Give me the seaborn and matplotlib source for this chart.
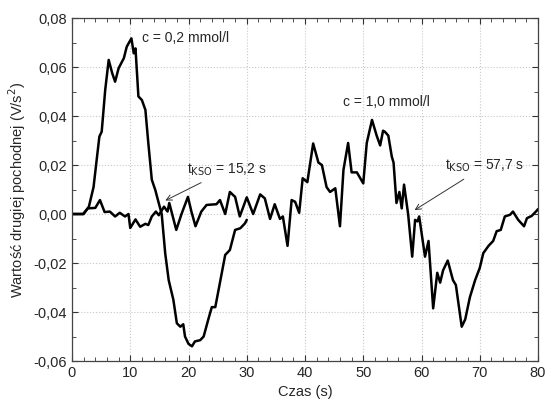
import pandas as pd
import matplotlib.pyplot as plt
import matplotlib.ticker as mticker
import seaborn as sns

# c = 0,2 mmol/l
czas_a = [0, 2.0, 2.9, 3.7, 4.3, 4.7, 5.1, 5.7, 6.3, 6.9, 7.4, 8.0, 8.9, 9.4, 10.2, 10.6,
          10.9, 11.4, 12.0, 12.6, 13.1, 13.7, 14.3, 14.9, 15.4, 16.0, 16.6, 17.4, 18.0,
          18.6, 19.1, 19.4, 20.0, 20.6, 21.1, 22.0, 22.6, 23.4, 24.0, 24.6, 25.4, 26.3,
          27.1, 28.0, 28.9, 29.7, 30.0]
wart_a = [0, 0, 0.003, 0.011, 0.0234, 0.0316, 0.0336, 0.0506, 0.0629, 0.0575, 0.054,
          0.0595, 0.0636, 0.0683, 0.0717, 0.0656, 0.0676, 0.048, 0.0465, 0.0425, 0.029,
          0.014, 0.0098, 0.0044, 0.0, -0.016, -0.027, -0.035, -0.0446, -0.046, -0.045,
          -0.050, -0.053, -0.054, -0.052, -0.0515, -0.050, -0.043, -0.038, -0.038, -0.028,
          -0.0167, -0.0147, -0.0065, -0.0058, -0.0038, -0.0024]

# c = 1,0 mmol/l
czas_b = [0, 1.9, 2.7, 4.0, 4.8, 5.6, 6.5, 7.4, 8.2, 9.1, 9.7, 10.0, 10.9, 11.7, 12.6,
          13.1, 13.7, 14.4, 14.9, 15.8, 16.4, 16.7, 17.9, 18.8, 19.9, 20.5, 21.2, 22.2,
          23.1, 24.8, 25.4, 26.3, 27.1, 28.0, 28.8, 30.0, 31.1, 32.3, 33.1, 34.0, 34.8,
          35.7, 36.2, 37.0, 37.7, 38.3, 39.0, 39.6, 40.4, 41.4, 42.3, 42.9, 43.7, 44.3,
          45.2, 46.0, 46.6, 47.4, 48.0, 48.9, 50.0, 50.6, 51.5, 52.3, 52.9, 53.4, 53.7,
          54.3, 54.9, 55.2, 55.7, 56.2, 56.6, 57.0, 57.7, 58.4, 58.9, 59.3, 59.6, 60.6,
          61.2, 62.0, 62.7, 63.2, 63.7, 64.5, 65.4, 65.9, 66.9, 67.5, 68.3, 69.2, 70.0,
          70.6, 71.5, 72.3, 72.9, 73.6, 74.3, 75.2, 75.7, 76.6, 77.6, 78.1, 78.9, 79.8, 80.0]
wart_b = [0, 0, 0.0023, 0.0025, 0.0057, 0.0008, 0.001, -0.001, 0.0005, -0.001, 0.0,
          -0.0057, -0.0022, -0.0052, -0.004, -0.0045, -0.001, 0.001, -0.0005, 0.003, 0.001,
          0.0045, -0.0065, 0.0, 0.007, 0.001, -0.005, 0.001, 0.0037, 0.004, 0.0057, 0.0,
          0.009, 0.007, -0.001, 0.0068, 0.0, 0.008, 0.0064, -0.002, 0.004, -0.002, -0.001,
          -0.013, 0.0057, 0.005, 0.0005, 0.0146, 0.013, 0.0288, 0.021, 0.02, 0.011, 0.009,
          0.0105, -0.005, 0.018, 0.029, 0.017, 0.017, 0.0125, 0.029, 0.0384, 0.032, 0.028,
          0.034, 0.0336, 0.032, 0.0234, 0.021, 0.0045, 0.009, 0.0023, 0.012, 0.0, -0.0174,
          -0.0024, -0.003, -0.001, -0.0174, -0.011, -0.0385, -0.024, -0.028, -0.023, -0.019,
          -0.027, -0.029, -0.046, -0.043, -0.034, -0.027, -0.022, -0.016, -0.013, -0.011,
          -0.007, -0.0065, -0.001, -0.0003, 0.001, -0.0024, -0.005, -0.0017, -0.0008,
          0.0014, 0.002]

df_a = pd.DataFrame({'czas': czas_a, 'wartosc': wart_a})
df_b = pd.DataFrame({'czas': czas_b, 'wartosc': wart_b})

sns.set_style('ticks')
plt.rcParams['font.family'] = ['Liberation Sans', 'DejaVu Sans']

fig = plt.figure(figsize=(5.45, 4.04), dpi=100)
ax = fig.add_axes([0.1321, 0.1064, 0.8551, 0.849])

sns.lineplot(data=df_a, x='czas', y='wartosc', color='black', linewidth=1.8,
             sort=False, estimator=None, ax=ax)
sns.lineplot(data=df_b, x='czas', y='wartosc', color='black', linewidth=1.8,
             sort=False, estimator=None, ax=ax)

ax.set_xlim(0, 80)
ax.set_ylim(-0.06, 0.08)
ax.xaxis.set_major_locator(mticker.MultipleLocator(10))
ax.xaxis.set_minor_locator(mticker.MultipleLocator(2))
ax.yaxis.set_major_locator(mticker.MultipleLocator(0.02))
ax.yaxis.set_minor_locator(mticker.MultipleLocator(0.01))
ax.yaxis.set_major_formatter(mticker.FuncFormatter(
    lambda v, p: f'{v:.2f}'.replace('.', ',').replace('-0,00', '0,00')))
ax.tick_params(which='both', direction='in', top=True, right=True, labelsize=10.5,
               color='#333333')
ax.tick_params(which='major', length=4)
ax.tick_params(which='minor', length=3)
ax.grid(True, which='major', linestyle=':', color='#c8c8c8', linewidth=0.8)
for s in ax.spines.values():
    s.set_color('#444444')
    s.set_linewidth(0.9)

ax.set_xlabel('Czas (s)', fontsize=10.5)
ax.set_ylabel('Wartość drugiej pochodnej (V/s$^2$)', fontsize=10.5)

ax.text(12.0, 0.0718, 'c = 0,2 mmol/l', fontsize=10, va='center')
ax.text(46.5, 0.0458, 'c = 1,0 mmol/l', fontsize=10, va='center')
ax.annotate('t$_{\\mathrm{KSO}}$ = 15,2 s', xy=(15.6, 0.005), xytext=(19.7, 0.018),
            fontsize=10, va='center',
            arrowprops=dict(arrowstyle='->', color='#333333', lw=0.7))
ax.annotate('t$_{\\mathrm{KSO}}$ = 57,7 s', xy=(58.4, 0.001), xytext=(64.0, 0.0195),
            fontsize=10, va='center',
            arrowprops=dict(arrowstyle='->', color='#333333', lw=0.7))

plt.savefig('out.png', dpi=100)
